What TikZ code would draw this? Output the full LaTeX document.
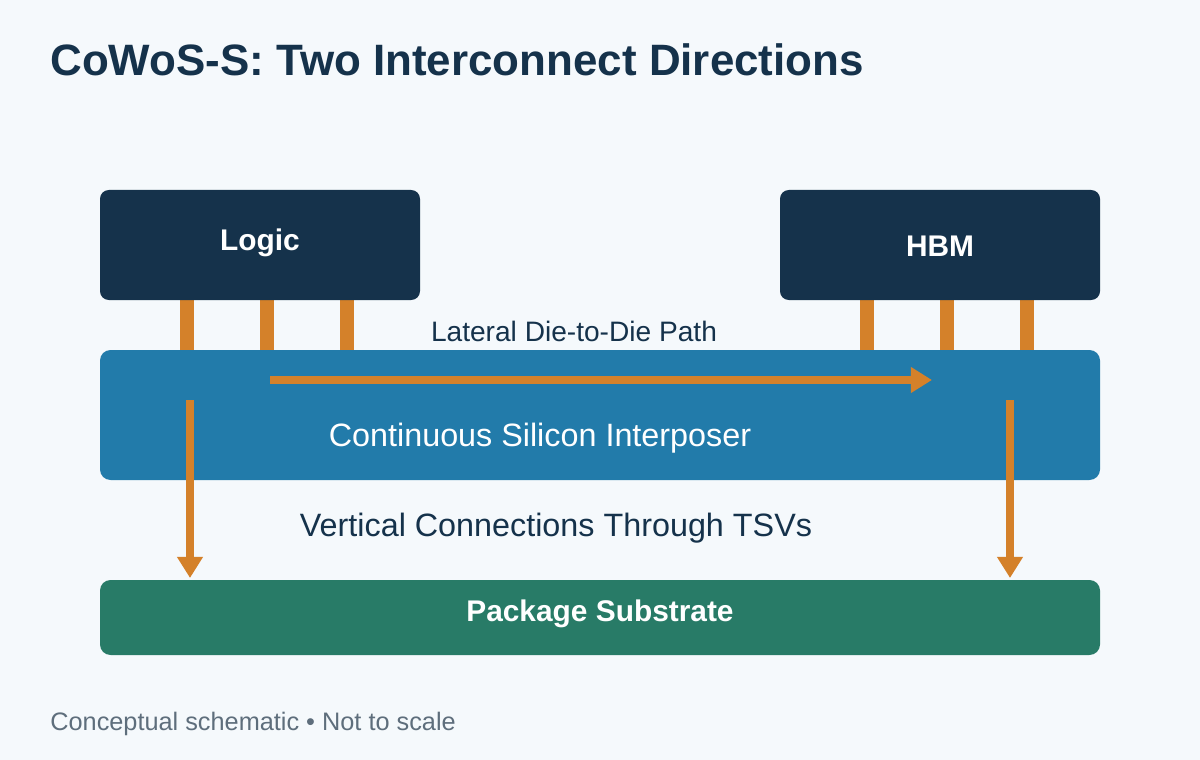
\documentclass[tikz,border=0pt]{standalone}
\usepackage{fontspec}
\setmainfont{Liberation Sans}
\usetikzlibrary{arrows.meta}
\definecolor{bg}{HTML}{F5F9FC}
\definecolor{dark}{HTML}{15324B}
\definecolor{blu}{HTML}{227BAA}
\definecolor{org}{HTML}{D4812A}
\definecolor{grn}{HTML}{287B67}
\definecolor{gry}{HTML}{5E6E7C}
\begin{document}
\begin{tikzpicture}[x=0.02cm,y=-0.02cm,
 die/.style={fill=dark,rounded corners=5pt,draw=none},
 bump/.style={fill=org,draw=none},
 arr/.style={draw=org,line width=4.6pt,-{Triangle[length=12pt,width=14pt]}},
 lbl/.style={font=\fontsize{17}{20}\selectfont\bfseries,text=white}]
\fill[bg] (0,0) rectangle (1200,760);
\useasboundingbox (0,0) rectangle (1200,760);
\node[anchor=west,inner sep=0,text=dark,font=\fontsize{25}{30}\selectfont\bfseries] (title) at (50,60) {CoWoS-S: Two Interconnect Directions};
\foreach \x/\n in {187/a,267/b,347/c,867/d,947/e,1027/f}
  \fill[bump] (\x-7,298) rectangle (\x+7,352);
\filldraw[die] (100,190) rectangle (420,300);
\node[lbl] (logic) at (260,243) {Logic};
\filldraw[die] (780,190) rectangle (1100,300);
\node[lbl] (hbm) at (940,246) {HBM};
\filldraw[fill=blu,draw=none,rounded corners=6pt] (100,350) rectangle (1100,480);
\node[text=white,font=\fontsize{18.4}{22}\selectfont] (ip) at (540,438) {Continuous Silicon Interposer};
\filldraw[fill=grn,draw=none,rounded corners=6pt] (100,580) rectangle (1100,655);
\node[lbl] (sub) at (600,614) {Package Substrate};
\coordinate (l1) at (270,380); \coordinate (l2) at (932,380);
\draw[arr] (l1) -- (l2);
\node[text=dark,font=\fontsize{16}{19}\selectfont] (lat) at (574,331) {Lateral Die-to-Die Path};
\coordinate (v1) at (190,400); \coordinate (v2) at (190,578);
\coordinate (w1) at (1010,400); \coordinate (w2) at (1010,578);
\draw[arr] (v1) -- (v2);
\draw[arr] (w1) -- (w2);
\node[text=dark,font=\fontsize{18.4}{22}\selectfont] (vert) at (556,528) {Vertical Connections Through TSVs};
\node[anchor=west,inner sep=0,text=gry,font=\fontsize{14.4}{17}\selectfont] (foot) at (50,724) {Conceptual schematic • Not to scale};
\end{tikzpicture}
\end{document}
